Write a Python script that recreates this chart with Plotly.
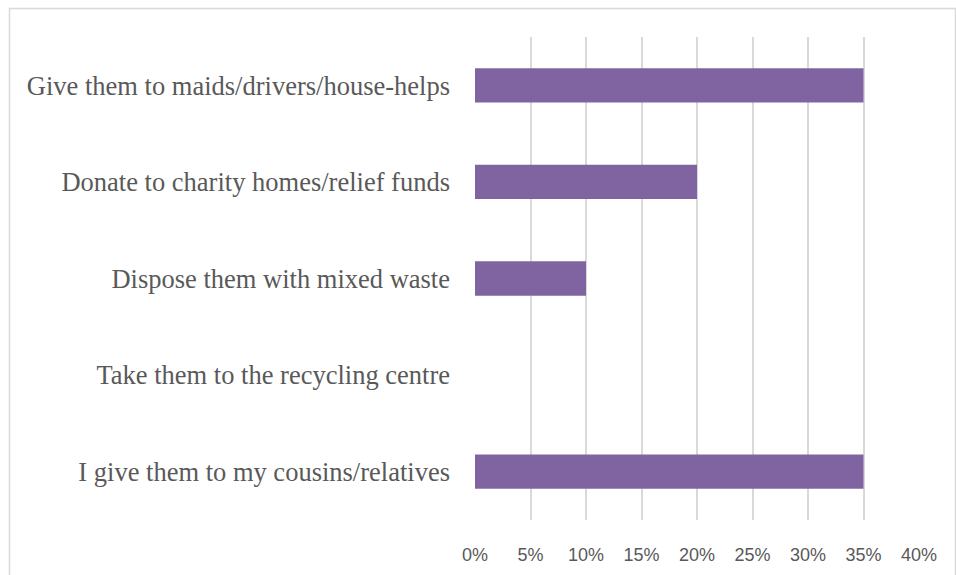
import plotly.graph_objects as go

# Survey responses: what people do with items they no longer need
categories = [
    "I give them to my cousins/relatives",
    "Take them to the recycling centre",
    "Dispose them with mixed waste",
    "Donate to charity homes/relief funds",
    "Give them to maids/drivers/house-helps",
]
shares = [0.35, 0.0, 0.10, 0.20, 0.35]
tick_values = [0, 0.05, 0.10, 0.15, 0.20, 0.25, 0.30, 0.35, 0.40]
tick_labels = ["0%", "5%", "10%", "15%", "20%", "25%", "30%", "35%", "40%"]

W, H = 956, 575
ML, MR, MT, MB = 475, 37, 37, 55
pw, ph = W - ML - MR, H - MT - MB

def px_x(x):
    return (x - ML) / pw

def px_y(y):
    return 1 - (y - MT) / ph

fig = go.Figure(
    go.Bar(
        x=shares,
        y=categories,
        orientation="h",
        marker=dict(color="#8064A2", line=dict(width=0)),
        width=0.355,
        hoverinfo="x+y",
    )
)

fig.update_layout(
    width=W,
    height=H,
    margin=dict(l=ML, r=MR, t=MT, b=MB, autoexpand=False),
    paper_bgcolor="white",
    plot_bgcolor="white",
    showlegend=False,
    xaxis=dict(
        range=[0, 0.40],
        tickvals=tick_values,
        ticktext=tick_labels,
        showgrid=True,
        gridcolor="#d9d9d9",
        gridwidth=1.5,
        zeroline=False,
        showline=False,
        ticks="",
        ticklabelstandoff=22,
        tickfont=dict(family="Liberation Sans", size=18, color="#595959"),
        fixedrange=True,
    ),
    yaxis=dict(
        categoryorder="array",
        categoryarray=categories,
        showgrid=False,
        zeroline=False,
        showline=False,
        ticks="",
        ticklabelstandoff=24,
        tickfont=dict(family="Liberation Serif", size=26.5, color="#595959"),
        fixedrange=True,
    ),
    shapes=[
        dict(
            type="rect",
            xref="paper",
            yref="paper",
            x0=px_x(9.5),
            x1=px_x(955.5),
            y0=px_y(590),
            y1=px_y(8.5),
            line=dict(color="#d9d9d9", width=1.5),
            fillcolor="rgba(0,0,0,0)",
            layer="below",
        )
    ],
)

fig.write_html("out.html")
